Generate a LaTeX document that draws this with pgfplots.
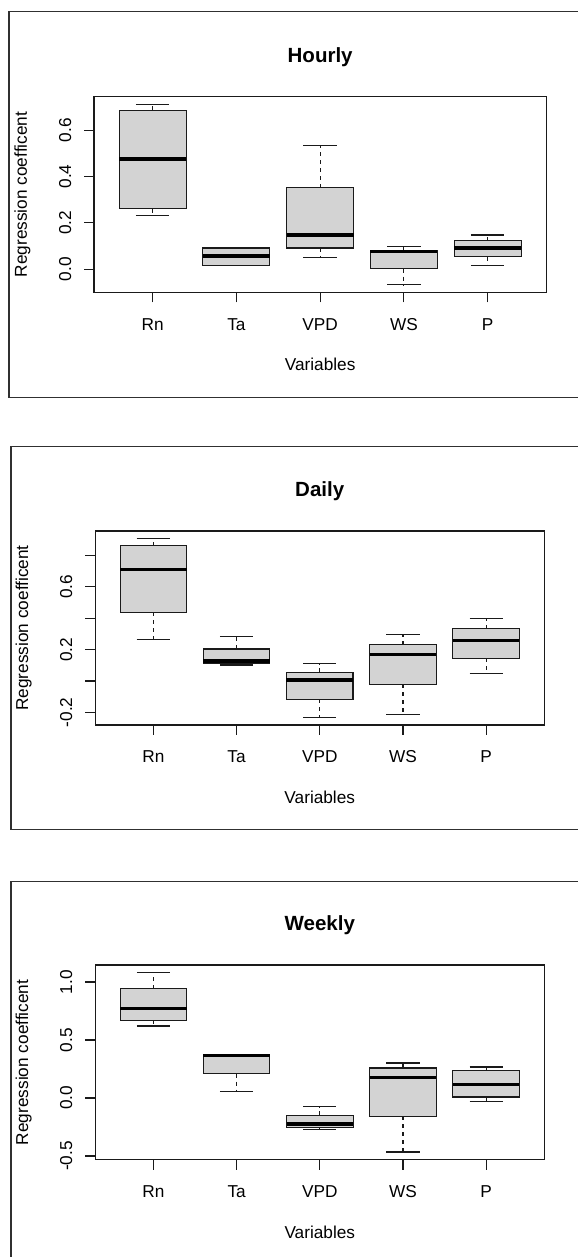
\documentclass[border=0pt]{standalone}
\usepackage{fontspec}
\setmainfont{Liberation Sans}
\usepackage{pgfplots}
\pgfplotsset{compat=1.18}
\usepgfplotslibrary{statistics}
\definecolor{boxgray}{HTML}{D3D3D3}
\definecolor{framecol}{HTML}{303030}
\definecolor{linecol}{HTML}{1A1A1A}

\pgfplotsset{
  rpanel/.style={
    scale only axis,
    xmin=0.3, xmax=5.7,
    xtick={1,2,3,4,5}, xticklabels={Rn,Ta,VPD,WS,P},
    tick align=outside, major tick length=10bp,
    xtick pos=left, ytick pos=left,
    minor tick num=0,
    axis line style={linecol, line width=1.1bp},
    every tick/.style={linecol, line width=1.1bp},
    tick label style={font=\fontsize{17.3}{20}\selectfont, inner sep=0pt},
    yticklabel style={xshift=-13bp, rotate=90, anchor=base},
    xticklabel style={anchor=base, yshift=-28bp},
    every axis x label/.style={at={(axis description cs:0.5,0)}, anchor=base, yshift=-78.5bp, font=\fontsize{17.3}{20}\selectfont, inner sep=0pt},
    every axis y label/.style={at={(axis description cs:0,0.5)}, xshift=-67bp, rotate=90, anchor=base, font=\fontsize{17.3}{20}\selectfont, inner sep=0pt},
    every axis title/.style={at={(axis description cs:0.5,1)}, anchor=base, yshift=34.6bp, font=\fontsize{20.6}{24}\selectfont\bfseries, inner sep=0pt},
    xlabel={Variables}, ylabel={Regression coefficent},
    boxplot/draw direction=y,
    boxplot/box extend=0.8,
    boxplot/whisker extend=0.4,
    boxplot/every box/.style={draw=linecol, fill=boxgray, line width=1.1bp},
    boxplot/every median/.style={line width=3.3bp, black},
    boxplot/draw/lower whisker/.code={%
      \draw[linecol, line width=1.1bp, dash pattern=on 4bp off 4bp]
        (boxplot box cs:\pgfplotsboxplotvalue{lower quartile},0.5) --
        (boxplot box cs:\pgfplotsboxplotvalue{lower whisker},0.5);
      \draw[linecol, line width=1.1bp]
        (boxplot whisker cs:\pgfplotsboxplotvalue{lower whisker},0) --
        (boxplot whisker cs:\pgfplotsboxplotvalue{lower whisker},1);
    },
    boxplot/draw/upper whisker/.code={%
      \draw[linecol, line width=1.1bp, dash pattern=on 4bp off 4bp]
        (boxplot box cs:\pgfplotsboxplotvalue{upper quartile},0.5) --
        (boxplot box cs:\pgfplotsboxplotvalue{upper whisker},0.5);
      \draw[linecol, line width=1.1bp]
        (boxplot whisker cs:\pgfplotsboxplotvalue{upper whisker},0) --
        (boxplot whisker cs:\pgfplotsboxplotvalue{upper whisker},1);
    },
  }
}
% draw position, lower whisker, lower quartile, median, upper quartile, upper whisker
\newcommand{\rbox}[6]{\addplot[boxplot prepared={draw position=#1, lower whisker=#2, lower quartile=#3, median=#4, upper quartile=#5, upper whisker=#6}] coordinates {};}

\begin{document}
\begin{tikzpicture}[x=1bp,y=1bp]
\useasboundingbox (0,0) rectangle (578,1257);
\clip (0,0) rectangle (578,1257);
\draw[framecol, line width=1.4bp] (9,859.3) rectangle (600,1245.3);
\draw[framecol, line width=1.4bp] (11,427.3) rectangle (600,810.3);
\draw[framecol, line width=1.4bp] (11,-20) rectangle (600,375.3);

% Hourly
\begin{axis}[rpanel, at={(94bp,964.7bp)}, anchor=south west,
  width=452.3bp, height=195.6bp,
  ymin=-0.099, ymax=0.744,
  ytick={0,0.2,0.4,0.6}, yticklabels={0.0,0.2,0.4,0.6},
  title={Hourly}]
\rbox{1}{0.231}{0.261}{0.475}{0.685}{0.712}
\rbox{2}{0.018}{0.018}{0.057}{0.092}{0.092}
\rbox{3}{0.050}{0.092}{0.148}{0.352}{0.535}
\rbox{4}{-0.067}{0.003}{0.076}{0.083}{0.098}
\rbox{5}{0.017}{0.055}{0.092}{0.124}{0.148}
\end{axis}

% Daily
\begin{axis}[rpanel, at={(95.1bp,532bp)}, anchor=south west,
  width=449.3bp, height=194bp,
  ymin=-0.281, ymax=0.957,
  ytick={-0.2,0,0.2,0.4,0.6,0.8}, yticklabels={-0.2,,0.2,,0.6,},
  title={Daily}]
\rbox{1}{0.266}{0.438}{0.713}{0.862}{0.910}
\rbox{2}{0.102}{0.113}{0.128}{0.204}{0.281}
\rbox{3}{-0.234}{-0.117}{0.006}{0.055}{0.109}
\rbox{4}{-0.213}{-0.021}{0.170}{0.232}{0.294}
\rbox{5}{0.047}{0.145}{0.260}{0.334}{0.396}
\end{axis}

% Weekly
\begin{axis}[rpanel, at={(95.2bp,97.3bp)}, anchor=south west,
  width=449.2bp, height=194.7bp,
  ymin=-0.532, ymax=1.147,
  ytick={-0.5,0,0.5,1}, yticklabels={-0.5,0.0,0.5,1.0},
  title={Weekly}]
\rbox{1}{0.621}{0.672}{0.770}{0.943}{1.083}
\rbox{2}{0.055}{0.210}{0.365}{0.376}{0.376}
\rbox{3}{-0.270}{-0.253}{-0.224}{-0.149}{-0.075}
\rbox{4}{-0.466}{-0.158}{0.175}{0.259}{0.302}
\rbox{5}{-0.029}{0.009}{0.118}{0.241}{0.267}
\end{axis}
\end{tikzpicture}
\end{document}
